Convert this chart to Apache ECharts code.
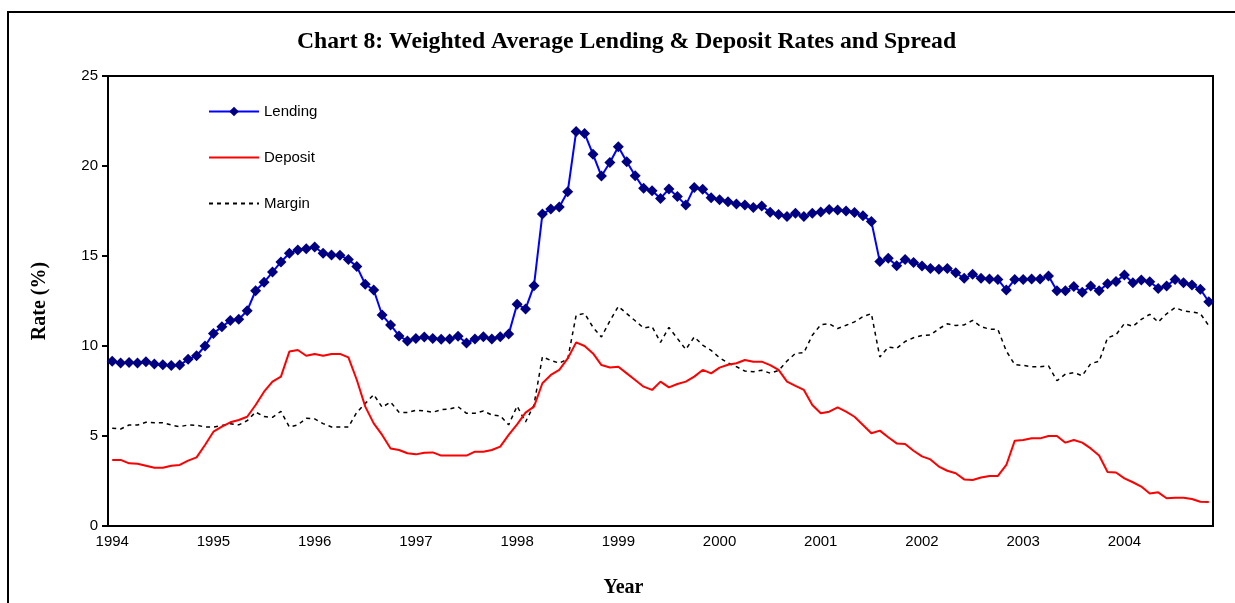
<!DOCTYPE html>
<html>
<head>
<meta charset="utf-8">
<title>Chart 8</title>
<script src="https://cdn.jsdelivr.net/npm/echarts@6/dist/echarts.min.js"></script>
<style>
  html, body { margin: 0; padding: 0; background: #fff; }
  #chart { width: 1235px; height: 603px; }
</style>
</head>
<body>
<div id="chart"></div>
<script>
  // monthly, Jan 1994 - Nov 2004
  var years = ['1994', '1995', '1996', '1997', '1998', '1999', '2000', '2001', '2002', '2003', '2004'];
  var months = ['01', '02', '03', '04', '05', '06', '07', '08', '09', '10', '11', '12'];

  var lending = [
    9.15, 9.05, 9.09, 9.06, 9.13, 9.0, 8.96, 8.91, 8.94, 9.26, 9.46, 10.0,
    10.7, 11.07, 11.41, 11.48, 11.96, 13.07, 13.54, 14.11, 14.67, 15.15, 15.33, 15.4,
    15.5, 15.15, 15.06, 15.04, 14.81, 14.41, 13.43, 13.11, 11.72, 11.17, 10.56, 10.28,
    10.41, 10.5, 10.41, 10.37, 10.39, 10.54, 10.17, 10.39, 10.52, 10.39, 10.52, 10.66,
    12.32, 12.06, 13.35, 17.33, 17.61, 17.72, 18.57, 21.91, 21.81, 20.65, 19.44, 20.19,
    21.07, 20.24, 19.46, 18.76, 18.63, 18.2, 18.72, 18.3, 17.83, 18.81, 18.71, 18.23,
    18.13, 18.02, 17.89, 17.83, 17.7, 17.78, 17.43, 17.31, 17.19, 17.37, 17.19, 17.37,
    17.44, 17.59, 17.56, 17.5, 17.41, 17.24, 16.91, 14.69, 14.87, 14.46, 14.81, 14.64,
    14.45, 14.31, 14.26, 14.3, 14.07, 13.76, 13.98, 13.76, 13.72, 13.7, 13.11, 13.7,
    13.7, 13.72, 13.72, 13.89, 13.07, 13.07, 13.3, 12.98, 13.33, 13.07, 13.46, 13.59,
    13.94, 13.52, 13.67, 13.57, 13.2, 13.33, 13.7, 13.52, 13.39, 13.15, 12.46
  ];

  var deposit = [
    3.67, 3.67, 3.48, 3.46, 3.35, 3.24, 3.24, 3.35, 3.39, 3.63, 3.81, 4.5,
    5.24, 5.52, 5.76, 5.89, 6.07, 6.72, 7.46, 8.02, 8.3, 9.69, 9.78, 9.46,
    9.55, 9.46, 9.56, 9.56, 9.37, 8.11, 6.63, 5.7, 5.06, 4.31, 4.22, 4.04,
    3.98, 4.07, 4.09, 3.91, 3.91, 3.91, 3.91, 4.13, 4.13, 4.22, 4.41, 5.06,
    5.65, 6.3, 6.63, 7.93, 8.39, 8.67, 9.31, 10.2, 10.0, 9.59, 8.94, 8.81,
    8.85, 8.48, 8.11, 7.74, 7.56, 8.02, 7.7, 7.89, 8.02, 8.3, 8.67, 8.48,
    8.8, 8.96, 9.04, 9.22, 9.13, 9.13, 8.94, 8.67, 8.02, 7.78, 7.56, 6.72,
    6.26, 6.35, 6.59, 6.35, 6.07, 5.61, 5.15, 5.3, 4.93, 4.59, 4.56, 4.18,
    3.87, 3.7, 3.3, 3.07, 2.93, 2.59, 2.56, 2.69, 2.78, 2.78, 3.39, 4.74,
    4.78, 4.87, 4.87, 5.0, 5.0, 4.63, 4.78, 4.63, 4.31, 3.92, 3.0, 2.97,
    2.65, 2.43, 2.19, 1.81, 1.87, 1.54, 1.57, 1.57, 1.5, 1.35, 1.33
  ];

  var margin = [
    5.43, 5.39, 5.61, 5.61, 5.76, 5.74, 5.74, 5.61, 5.52, 5.61, 5.6, 5.5,
    5.5, 5.58, 5.68, 5.62, 5.85, 6.33, 6.08, 6.04, 6.37, 5.5, 5.62, 5.98,
    5.95, 5.69, 5.5, 5.5, 5.5, 6.32, 6.8, 7.3, 6.6, 6.88, 6.32, 6.3,
    6.43, 6.4, 6.32, 6.46, 6.5, 6.63, 6.26, 6.26, 6.39, 6.17, 6.12, 5.62,
    6.66, 5.78, 6.72, 9.4, 9.2, 9.05, 9.27, 11.71, 11.81, 11.04, 10.5, 11.39,
    12.2, 11.8, 11.4, 11.0, 11.08, 10.2, 11.03, 10.42, 9.81, 10.5, 10.05, 9.76,
    9.35, 9.06, 8.85, 8.61, 8.57, 8.65, 8.49, 8.64, 9.17, 9.59, 9.63, 10.6,
    11.18, 11.24, 10.97, 11.15, 11.34, 11.63, 11.8, 9.39, 9.94, 9.87, 10.25, 10.46,
    10.58, 10.61, 10.96, 11.23, 11.14, 11.17, 11.42, 11.07, 10.94, 10.92, 9.72, 8.96,
    8.92, 8.85, 8.85, 8.89, 8.07, 8.44, 8.52, 8.35, 9.02, 9.15, 10.46, 10.62,
    11.25, 11.09, 11.48, 11.76, 11.33, 11.79, 12.13, 11.95, 11.89, 11.8, 11.13
  ];

  var categories = [];
  for (var y = 0; y < years.length; y++) {
    for (var m = 0; m < months.length; m++) {
      if (categories.length < lending.length) categories.push(years[y] + '-' + months[m]);
    }
  }

  var sans = '"Liberation Sans", Arial, sans-serif';
  var serif = '"Liberation Serif", "Times New Roman", serif';

  var myChart = echarts.init(document.getElementById('chart'));
  var option = {
    animation: false,
    backgroundColor: '#fff',
    title: {
      text: 'Chart 8: Weighted Average Lending & Deposit Rates and Spread',
      left: 292,
      top: 25,
      textStyle: {fontFamily: serif, fontWeight: 'bold', fontSize: 23.7, color: '#000'}
    },
    graphic: [{
      type: 'rect',
      shape: {x: 8, y: 12, width: 1300, height: 700},
      style: {fill: 'none', stroke: '#000', lineWidth: 2},
      silent: true
    }],
    legend: {
      orient: 'vertical',
      left: 203,
      top: 99,
      itemWidth: 50,
      itemHeight: 12,
      itemGap: 31,
      textStyle: {fontFamily: sans, fontSize: 15, color: '#000'},
      data: [
        {name: 'Lending'},
        {name: 'Deposit', itemStyle: {opacity: 0}},
        {name: 'Margin', itemStyle: {opacity: 0}}
      ]
    },
    grid: {
      left: 108,
      top: 76,
      right: 22,
      bottom: 77,
      show: true,
      borderColor: '#000',
      borderWidth: 2
    },
    xAxis: {
      type: 'category',
      data: categories,
      boundaryGap: true,
      name: 'Year',
      nameLocation: 'middle',
      nameGap: 52,
      nameTextStyle: {fontFamily: serif, fontWeight: 'bold', fontSize: 20, color: '#000', padding: [0, 74, 0, 0]},
      axisLine: {lineStyle: {color: '#000', width: 2}},
      axisTick: {interval: 0, length: 5, lineStyle: {color: '#000', width: 2}},
      axisLabel: {
        interval: 11,
        margin: 8,
        fontFamily: sans,
        fontSize: 15,
        color: '#000',
        formatter: function (v) { return v.slice(0, 4); }
      },
      splitLine: {show: false}
    },
    yAxis: {
      type: 'value',
      min: 0,
      max: 25,
      interval: 5,
      name: 'Rate (%)',
      nameLocation: 'middle',
      nameGap: 58,
      nameTextStyle: {fontFamily: serif, fontWeight: 'bold', fontSize: 20, color: '#000'},
      axisLine: {show: true, lineStyle: {color: '#000', width: 2}},
      axisTick: {show: true, length: 6, lineStyle: {color: '#000', width: 2}},
      axisLabel: {fontFamily: sans, fontSize: 15, color: '#000', margin: 10},
      splitLine: {show: false}
    },
    series: [{
      name: 'Lending',
      type: 'line',
      data: lending,
      symbol: 'diamond',
      symbolSize: 11,
      showAllSymbol: true,
      z: 4,
      itemStyle: {color: '#000080'},
      lineStyle: {color: '#0000ff', width: 2}
    }, {
      name: 'Deposit',
      type: 'line',
      data: deposit,
      symbol: 'none',
      z: 3,
      itemStyle: {color: '#ff0000'},
      lineStyle: {color: '#ff0000', width: 2}
    }, {
      name: 'Margin',
      type: 'line',
      data: margin,
      symbol: 'none',
      z: 2,
      itemStyle: {color: '#000'},
      lineStyle: {color: '#000', width: 1.5, type: [4, 4]}
    }]
  };
  myChart.setOption(option);
</script>
</body>
</html>
